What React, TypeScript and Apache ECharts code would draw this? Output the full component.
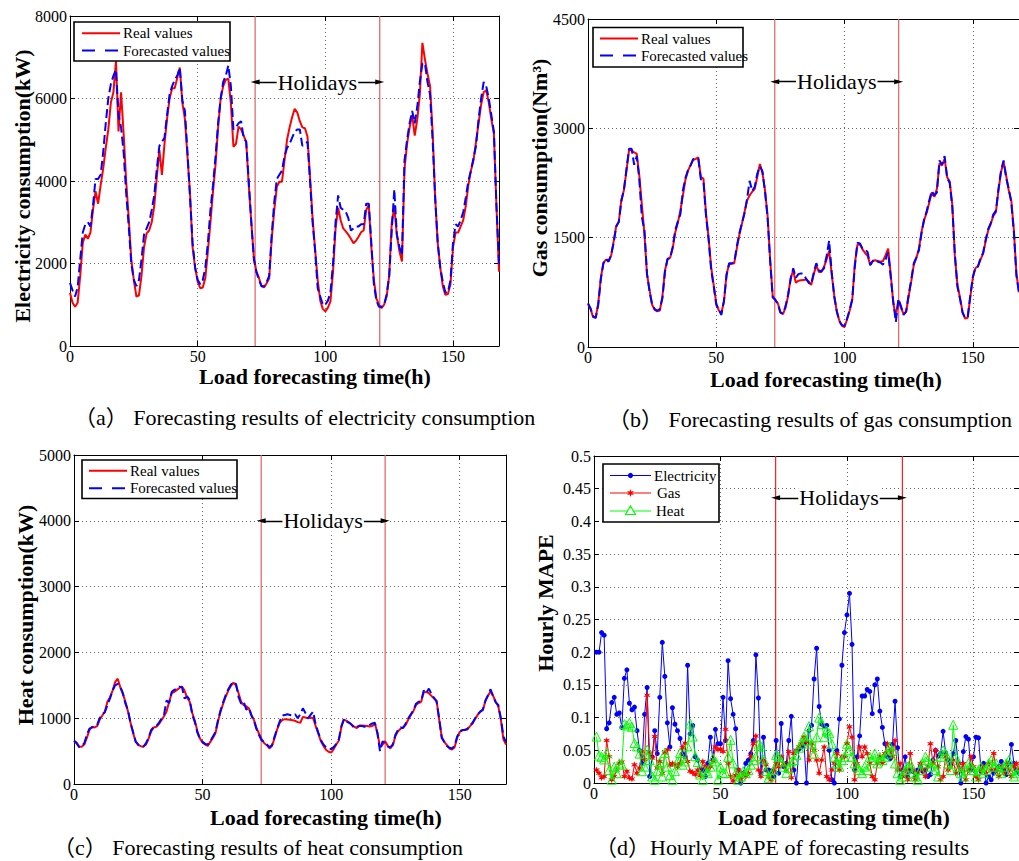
import React, { useEffect, useRef } from "react";
import * as echarts from "echarts";

// ---------------- data (hour 0..168) ----------------
const elecReal = [
  1290, 1050, 950, 1050, 1700, 2500, 2700, 2600, 2750, 3300,
  3750, 3450, 3900, 4300, 4800, 5250, 5900, 6150, 6900, 5200,
  6150, 5150, 4000, 3100, 2100, 1600, 1200, 1230, 1700, 2400,
  2730, 2800, 3000, 3400, 4100, 4750, 4150, 4900, 5500, 6000,
  6250, 6250, 6500, 6750, 5900, 5500, 4600, 3700, 2400, 1900,
  1560, 1400, 1420, 1650, 2300, 3000, 3740, 4400, 5300, 6000,
  6300, 6450, 6480, 5880, 4830, 4900, 5320, 5250, 5100, 4950,
  3900, 3000, 2150, 1800, 1650, 1450, 1420, 1520, 1640, 2600,
  3300, 3860, 3980, 3980, 4500, 5000, 5300, 5550, 5750, 5660,
  5450, 5300, 5280, 5080, 4100, 3100, 2330, 1600, 1100, 900,
  840, 930, 1080, 1800, 2850, 3350, 3050, 2850, 2780, 2700,
  2600, 2490, 2550, 2650, 2760, 2800, 3300, 3420, 2400, 1600,
  1150, 1000, 920, 1000, 1200, 1700, 3000, 3360, 2700, 2300,
  2050, 4300, 4900, 5300, 5600, 5100, 5500, 6100, 7350, 6950,
  6600, 6300, 5200, 3600, 2500, 1900, 1450, 1240, 1260, 1500,
  2400, 2750, 2750, 2900, 3050, 3400, 3900, 4250, 4500, 4950,
  5400, 5850, 6150, 6200, 5900, 5500, 5150, 3400, 1800,
];
const elecForecast = [
  1530, 1350, 1200, 1420, 2100, 2750, 2950, 3000, 2900, 3400,
  4050, 4050, 4150, 4700, 5400, 6000, 6350, 6550, 6700, 5600,
  5300, 4700, 3700, 2900, 2000, 1600, 1450, 1600, 2100, 2700,
  2850, 3000, 3300, 3650, 4300, 4850, 4950, 5050, 5600, 6100,
  6300, 6450, 6550, 6750, 5950, 5700, 4700, 3600, 2500, 1900,
  1600, 1500, 1600, 1900, 2500, 3300, 3900, 4600, 5400, 6000,
  6400, 6550, 6800, 6300, 5250, 5300, 5400, 5450, 5050, 4950,
  4000, 3000, 2100, 1800, 1600, 1450, 1450, 1550, 1700, 2700,
  3500, 4050, 4150, 4250, 4600, 4800, 4900, 5050, 5200, 5250,
  5250, 4850, 4900, 4950, 4000, 3000, 2300, 1400, 1200, 1000,
  1000, 1100, 1300, 2000, 3000, 3650, 3350, 3300, 3250, 3100,
  2800, 2850, 2900, 2900, 2950, 2950, 3450, 3450, 2500, 1500,
  1100, 950, 950, 1000, 1250, 1700, 2800, 3800, 2700, 2400,
  2200, 4500, 5000, 5400, 5700, 5400, 5800, 6400, 6850, 6850,
  6400, 6100, 5000, 3600, 2500, 1900, 1550, 1300, 1300, 1600,
  2500, 2950, 2900, 3050, 3250, 3600, 4000, 4250, 4550, 4850,
  5500, 6000, 6400, 6300, 6000, 5600, 5200, 3400, 2000,
];
const gasReal = [
  590, 520, 410, 400, 600, 950, 1150, 1200, 1180, 1250,
  1450, 1660, 1715, 2020, 2150, 2420, 2700, 2700, 2670, 2650,
  2350, 1950, 1550, 1000, 780, 580, 510, 490, 500, 690,
  1050, 1200, 1225, 1350, 1570, 1700, 1870, 2080, 2300, 2420,
  2500, 2565, 2580, 2600, 2330, 2310, 1830, 1500, 1100, 850,
  600, 500, 470, 620, 1000, 1130, 1140, 1150, 1350, 1540,
  1690, 1850, 2010, 2080, 2130, 2170, 2340, 2510, 2390, 2150,
  1800, 1200, 700, 640, 600, 480, 450, 540, 700, 950,
  1050, 880, 910, 915, 920, 925, 900, 850, 1000, 1120,
  1030, 1030, 1100, 1200, 1320, 1000, 700, 480, 360, 290,
  274, 380, 500, 640, 1140, 1400, 1410, 1340, 1290, 1250,
  1130, 1180, 1190, 1180, 1170, 1180, 1260, 1350, 1000, 600,
  420, 640, 540, 450, 480, 700, 900, 1130, 1220, 1350,
  1580, 1740, 1840, 1980, 2120, 2060, 2170, 2520, 2490, 2580,
  2330, 2270, 1950, 1250, 850, 680, 480, 390, 400, 680,
  950, 1080, 1110, 1200, 1280, 1450, 1600, 1690, 1800, 1850,
  2150, 2400, 2540, 2350, 2150, 2010, 1600, 1000, 750,
];
const gasForecast = [
  600, 530, 420, 400, 580, 930, 1150, 1210, 1170, 1260,
  1430, 1650, 1720, 2000, 2160, 2440, 2720, 2720, 2500, 2620,
  2300, 1780, 1600, 1000, 760, 580, 520, 500, 520, 670,
  1030, 1210, 1220, 1370, 1600, 1720, 1820, 2150, 2320, 2430,
  2490, 2580, 2570, 2580, 2300, 2280, 1800, 1480, 1060, 830,
  580, 510, 440, 640, 980, 1150, 1150, 1160, 1380, 1560,
  1700, 1830, 2030, 2280, 2140, 2200, 2380, 2480, 2410, 2130,
  1780, 1180, 680, 650, 590, 470, 460, 560, 720, 930,
  1080, 950, 1000, 1010, 1000, 940, 880, 860, 1020, 1150,
  1050, 1040, 1080, 1250, 1460, 1020, 690, 490, 350, 300,
  290, 390, 510, 660, 1100, 1430, 1420, 1350, 1340, 1300,
  1120, 1180, 1200, 1170, 1160, 1130, 1200, 1300, 960, 620,
  343, 660, 560, 440, 490, 720, 920, 1150, 1230, 1330,
  1560, 1750, 1860, 2010, 2140, 2080, 2120, 2560, 2500, 2620,
  2320, 2250, 1920, 1270, 830, 660, 470, 400, 410, 700,
  960, 1090, 1100, 1220, 1290, 1470, 1620, 1700, 1820, 1870,
  2170, 2420, 2560, 2320, 2170, 1980, 1580, 980, 740,
];
const heatReal = [
  650, 630, 570, 567, 600, 700, 820, 870, 860, 880,
  980, 1040, 1100, 1250, 1320, 1420, 1550, 1600, 1470, 1370,
  1250, 1100, 930, 770, 650, 590, 575, 567, 600, 690,
  800, 860, 870, 910, 970, 1030, 1100, 1250, 1380, 1400,
  1430, 1460, 1480, 1420, 1310, 1250, 1080, 960, 800, 690,
  630, 600, 580, 640, 700, 770, 950, 1100, 1220, 1330,
  1420, 1490, 1540, 1500, 1380, 1250, 1200, 1180, 1150, 1050,
  970, 850, 760, 680, 620, 590, 540, 580, 700, 830,
  930, 970, 985, 980, 975, 970, 960, 940, 930, 1020,
  1010, 1000, 1010, 1000, 880, 770, 650, 580, 520, 490,
  476, 530, 600, 660, 870, 980, 960, 935, 900, 870,
  850, 890, 890, 885, 880, 875, 880, 920, 780, 560,
  600, 650, 580, 540, 590, 730, 800, 840, 860, 900,
  980, 1050, 1110, 1200, 1230, 1250, 1390, 1400, 1380, 1340,
  1300, 1270, 980, 720, 640, 590, 540, 525, 560, 700,
  790, 815, 825, 830, 880, 920, 990, 1050, 1100, 1125,
  1260, 1340, 1410, 1340, 1250, 1180, 980, 680, 600,
];
const heatForecast = [
  660, 620, 560, 575, 620, 750, 840, 860, 870, 900,
  1000, 1060, 1090, 1200, 1300, 1420, 1500, 1520, 1480, 1380,
  1220, 1120, 920, 790, 640, 600, 580, 570, 620, 700,
  820, 870, 880, 930, 990, 1050, 1270, 1230, 1400, 1430,
  1450, 1480, 1470, 1300, 1330, 1280, 1050, 940, 780, 680,
  640, 610, 600, 650, 720, 790, 970, 1120, 1240, 1350,
  1440, 1510, 1550, 1520, 1320, 1220, 1250, 1130, 1160, 1040,
  960, 830, 740, 660, 640, 600, 560, 590, 720, 840,
  950, 1040, 1050, 1060, 1050, 1040, 1060, 1000, 1060, 1150,
  1080, 1000, 1050, 1100, 900, 780, 670, 600, 560, 540,
  530, 560, 610, 680, 880, 990, 950, 930, 900, 850,
  870, 880, 880, 870, 880, 900, 920, 930, 770, 500,
  650, 620, 570, 560, 600, 750, 820, 860, 850, 920,
  1000, 1060, 1120, 1220, 1250, 1260, 1420, 1380, 1450, 1370,
  1310, 1250, 1000, 700, 640, 580, 550, 540, 580, 720,
  800, 820, 820, 840, 890, 930, 1000, 1060, 1100, 1130,
  1270, 1350, 1440, 1330, 1240, 1200, 1000, 720, 640,
];
// hourly MAPE, hour 1..168
const mapeElectricity = [
  0.2, 0.2, 0.23, 0.226, 0.083, 0.092, 0.123, 0.131, 0.105, 0.107,
  0.085, 0.16, 0.173, 0.122, 0.112, 0.116, 0.08, 0.05, 0.03, 0.105,
  0.146, 0.01, 0.04, 0.08, 0.045, 0.131, 0.215, 0.163, 0.092, 0.055,
  0.115, 0.09, 0.08, 0.068, 0.045, 0.04, 0.18, 0.075, 0.088, 0.04,
  0.035, 0.02, 0.02, 0.01, 0.03, 0.07, 0.035, 0.082, 0.06, 0.06,
  0.131, 0.065, 0.187, 0.129, 0.105, 0.083, 0.02, 0.0, 0.015, 0.03,
  0.035, 0.045, 0.065, 0.196, 0.13, 0.015, 0.07, 0.02, 0.02, 0.018,
  0.01, 0.065, 0.015, 0.091, 0.025, 0.03, 0.065, 0.102, 0.02, 0.0,
  0.052, 0.055, 0.06, 0.0, 0.08, 0.088, 0.159, 0.206, 0.117, 0.09,
  0.087, 0.088, 0.05, 0.005, 0.0, 0.05, 0.098, 0.18, 0.23, 0.257,
  0.29, 0.212, 0.02, 0.04, 0.072, 0.133, 0.133, 0.143, 0.14, 0.106,
  0.15, 0.159, 0.11, 0.085, 0.06, 0.04, 0.037, 0.059, 0.125, 0.054,
  0.01, 0.02, 0.04, 0.01, 0.02, 0.018, 0.01, 0.02, 0.025, 0.018,
  0.02, 0.01, 0.013, 0.035, 0.05, 0.041, 0.045, 0.079, 0.046, 0.035,
  0.028, 0.045, 0.065, 0.03, 0.0, 0.048, 0.071, 0.067, 0.02, 0.04,
  0.07, 0.069, 0.018, 0.03, 0.0, 0.01, 0.005, 0.015, 0.02, 0.025,
  0.033, 0.02, 0.013, 0.03, 0.059, 0.03, 0.02, 0.015,
];
const mapeGas = [
  0.02, 0.015, 0.008, 0.01, 0.065, 0.04, 0.005, 0.01, 0.02, 0.03,
  0.032, 0.01, 0.018, 0.008, 0.006, 0.028, 0.015, 0.023, 0.048, 0.036,
  0.134, 0.046, 0.038, 0.071, 0.023, 0.033, 0.015, 0.046, 0.051, 0.027,
  0.03, 0.028, 0.025, 0.03, 0.054, 0.061, 0.033, 0.018, 0.016, 0.013,
  0.02, 0.011, 0.033, 0.025, 0.02, 0.025, 0.033, 0.055, 0.051, 0.052,
  0.048, 0.082, 0.03, 0.01, 0.003, 0.012, 0.02, 0.005, 0.015, 0.01,
  0.015, 0.04, 0.06, 0.072, 0.02, 0.01, 0.035, 0.028, 0.01, 0.005,
  0.02, 0.03, 0.025, 0.04, 0.03, 0.02, 0.048, 0.008, 0.045, 0.05,
  0.055, 0.06, 0.07, 0.063, 0.035, 0.06, 0.05, 0.035, 0.015, 0.035,
  0.055, 0.01, 0.005, 0.02, 0.03, 0.045, 0.02, 0.04, 0.04, 0.06,
  0.086, 0.07, 0.005, 0.03, 0.055, 0.04, 0.055, 0.045, 0.03, 0.01,
  0.005, 0.03, 0.04, 0.03, 0.045, 0.06, 0.05, 0.04, 0.065, 0.02,
  0.03, 0.01, 0.02, 0.005, 0.045, 0.02, 0.005, 0.015, 0.03, 0.02,
  0.01, 0.025, 0.06, 0.03, 0.05, 0.025, 0.005, 0.01, 0.04, 0.02,
  0.025, 0.035, 0.015, 0.03, 0.02, 0.03, 0.005, 0.02, 0.04, 0.025,
  0.01, 0.005, 0.02, 0.025, 0.015, 0.03, 0.02, 0.045, 0.02, 0.01,
  0.025, 0.015, 0.03, 0.02, 0.01, 0.025, 0.03, 0.02,
];
const mapeHeat = [
  0.071, 0.042, 0.04, 0.036, 0.046, 0.02, 0.005, 0.025, 0.015, 0.03,
  0.028, 0.09, 0.088, 0.092, 0.086, 0.061, 0.056, 0.045, 0.018, 0.025,
  0.051, 0.035, 0.01, 0.005, 0.018, 0.032, 0.01, 0.046, 0.025, 0.012,
  0.005, 0.018, 0.033, 0.046, 0.028, 0.033, 0.056, 0.091, 0.071, 0.041,
  0.032, 0.013, 0.005, 0.018, 0.015, 0.025, 0.038, 0.033, 0.005, 0.025,
  0.015, 0.015, 0.04, 0.066, 0.03, 0.015, 0.005, 0.01, 0.018, 0.015,
  0.02, 0.028, 0.035, 0.041, 0.059, 0.056, 0.036, 0.018, 0.008, 0.013,
  0.02, 0.043, 0.04, 0.033, 0.025, 0.015, 0.023, 0.033, 0.035, 0.043,
  0.054, 0.06, 0.071, 0.065, 0.087, 0.06, 0.045, 0.07, 0.1, 0.09,
  0.07, 0.08, 0.076, 0.06, 0.04, 0.03, 0.025, 0.035, 0.04, 0.06,
  0.05, 0.04, 0.03, 0.025, 0.02, 0.015, 0.025, 0.02, 0.04, 0.035,
  0.045, 0.03, 0.04, 0.035, 0.04, 0.045, 0.056, 0.05, 0.03, 0.015,
  0.005, 0.01, 0.02, 0.025, 0.03, 0.015, 0.01, 0.005, 0.02, 0.03,
  0.04, 0.035, 0.025, 0.03, 0.02, 0.01, 0.04, 0.05, 0.045, 0.03,
  0.02, 0.089, 0.04, 0.025, 0.015, 0.01, 0.02, 0.03, 0.025, 0.02,
  0.01, 0.02, 0.025, 0.015, 0.02, 0.03, 0.035, 0.025, 0.03, 0.02,
  0.015, 0.025, 0.03, 0.035, 0.02, 0.01, 0.015, 0.02,
];

// axis ranges / annotation values (data units)
const xMax = 168;
const xStep = 50;
const yMaxes = [8000, 4500, 5000, 0.5];
const ySteps = [2000, 1500, 1000, 0.05];
const holidayBounds = [
  [72.5, 121.3],
  [72.8, 121.1],
  [72.8, 121.0],
  [71.8, 121.9],
];
const holidayArrowY = [6400, 3640, 4000, 0.436];

// texts
const holidayLabel = "Holidays";
const xTitle = "Load forecasting time(h)";
const yTitles = [
  "Electricity consumption(kW)",
  "Gas consumption(Nm³)",
  "Heat consumption(kW)",
  "Hourly MAPE",
];
const captions = [
  "（a） Forecasting results of electricity consumption",
  "（b） Forecasting results of gas consumption",
  "（c） Forecasting results of heat consumption",
  "（d）Hourly MAPE of forecasting results",
];
const fitNames = ["Real values", "Forecasted values"];
const mapeNames = ["Electricity", "Gas", "Heat"];

// ---------------- layout / style ----------------
const SERIF = "'Liberation Serif', 'Times New Roman', serif";
const SERIF_CJK = "'Liberation Serif', 'Noto Sans CJK SC', serif";
const RED = "#ff0000";
const BLUE = "#0000ff";
const GREEN = "#00ff00";
const DASH = [9, 4];

const GRIDS = [
  { left: 70, top: 16, width: 429, height: 330 },
  { left: 588, top: 19, width: 432, height: 328 },
  { left: 74, top: 455, width: 432, height: 329 },
  { left: 594, top: 456, width: 432, height: 327 },
];
const HOLIDAY_COLORS = ["#e06060", "#e06060", "#e06060", "#ff1a1a"];
const X_TITLE_POS = [
  [315, 376],
  [826, 379],
  [326, 817],
  [834, 817],
];
const Y_TITLE_POS = [
  [22, 186],
  [539, 168],
  [25, 615],
  [545, 603],
];
const CAPTION_POS = [
  [74, 417],
  [608, 419],
  [53, 847],
  [595, 847],
];
const STAR_PATH =
  "path://M0,-10L2,-3.5L8.7,-5L4,0L8.7,5L2,3.5L0,10L-2,3.5L-8.7,5L-4,0L-8.7,-5L-2,-3.5Z";

const pairs = (arr: number[], start: number) => arr.map((v, i) => [i + start, v]);
const fmtTick = (v: number) => String(parseFloat(Number(v).toFixed(6)));

// vertical holiday boundary lines, drawn as tiny two-point line series
function holidaySeries(gi: number) {
  return holidayBounds[gi].map((h) => ({
    type: "line",
    xAxisIndex: gi,
    yAxisIndex: gi,
    data: [
      [h, 0],
      [h, yMaxes[gi]],
    ],
    symbol: "none",
    silent: true,
    z: 2,
    lineStyle: { color: HOLIDAY_COLORS[gi], width: 1.2, type: "solid" },
    itemStyle: { color: HOLIDAY_COLORS[gi] },
    emphasis: { disabled: true },
  }));
}

function holidayArrow(gi: number) {
  const [h0, h1] = holidayBounds[gi];
  const y = holidayArrowY[gi];
  return {
    silent: true,
    symbol: ["triangle", "triangle"],
    symbolSize: [5, 9],
    precision: 4,
    emphasis: { disabled: true },
    lineStyle: { color: "#000", width: 1.3, type: "solid", opacity: 1 },
    label: {
      show: true,
      position: "insideMiddle",
      formatter: holidayLabel,
      fontFamily: SERIF,
      fontSize: 22,
      color: "#000",
      backgroundColor: "#fff",
      padding: [0, 1],
      distance: 0,
    },
    itemStyle: { color: "#000" },
    data: [[{ coord: [h0, y] }, { coord: [h1, y] }]],
  };
}

function fitSeries(gi: number, real: number[], fc: number[]) {
  return [
    {
      name: fitNames[0],
      type: "line",
      xAxisIndex: gi,
      yAxisIndex: gi,
      data: pairs(real, 0),
      symbol: "none",
      silent: true,
      z: 3,
      lineStyle: { color: RED, width: 2 },
      itemStyle: { color: RED },
      emphasis: { disabled: true },
    },
    {
      name: fitNames[1],
      type: "line",
      xAxisIndex: gi,
      yAxisIndex: gi,
      data: pairs(fc, 0),
      symbol: "none",
      silent: true,
      z: 4,
      lineStyle: { color: BLUE, width: 2, type: DASH },
      itemStyle: { color: BLUE },
      emphasis: { disabled: true },
      markLine: holidayArrow(gi),
    },
  ];
}

function mapeSeries() {
  return [
    {
      name: mapeNames[0],
      type: "line",
      xAxisIndex: 3,
      yAxisIndex: 3,
      data: pairs(mapeElectricity, 1),
      symbol: "circle",
      symbolSize: 5,
      silent: true,
      z: 3,
      lineStyle: { color: BLUE, width: 1 },
      itemStyle: { color: BLUE },
      emphasis: { disabled: true },
    },
    {
      name: mapeNames[1],
      type: "line",
      xAxisIndex: 3,
      yAxisIndex: 3,
      data: pairs(mapeGas, 1),
      symbol: STAR_PATH,
      symbolSize: 7,
      silent: true,
      z: 4,
      lineStyle: { color: RED, width: 1 },
      itemStyle: { color: RED },
      emphasis: { disabled: true },
      markLine: holidayArrow(3),
    },
    {
      name: mapeNames[2],
      type: "line",
      xAxisIndex: 3,
      yAxisIndex: 3,
      data: pairs(mapeHeat, 1),
      symbol: "triangle",
      symbolSize: 9,
      silent: true,
      z: 5,
      lineStyle: { color: GREEN, width: 1 },
      itemStyle: { color: "rgba(255,255,255,0)", borderColor: GREEN, borderWidth: 1 },
      emphasis: { disabled: true },
    },
  ];
}

const axisBase = {
  axisLine: { show: true, onZero: false, lineStyle: { color: "#000", width: 1 } },
  axisTick: { show: true, inside: true, length: 5, lineStyle: { color: "#000", width: 1 } },
};
const splitStyle = { show: true, lineStyle: { color: "#666", width: 1, type: [1, 3] } };
const labelStyle = { color: "#000", fontFamily: SERIF, fontSize: 16, formatter: fmtTick };

function buildXAxes() {
  const main = GRIDS.map((_, gi) => ({
    type: "value",
    gridIndex: gi,
    position: "bottom",
    min: 0,
    max: xMax,
    interval: xStep,
    ...axisBase,
    axisLabel: { ...labelStyle, margin: 2, showMaxLabel: false },
    splitLine: splitStyle,
  }));
  const mirror = GRIDS.map((_, gi) => ({
    type: "value",
    gridIndex: gi,
    position: "top",
    min: 0,
    max: xMax,
    interval: xStep,
    ...axisBase,
    axisLabel: { show: false },
    splitLine: { show: false },
  }));
  return [...main, ...mirror];
}

function buildYAxes() {
  const main = GRIDS.map((_, gi) => ({
    type: "value",
    gridIndex: gi,
    position: "left",
    min: 0,
    max: yMaxes[gi],
    interval: ySteps[gi],
    ...axisBase,
    axisLabel: { ...labelStyle, margin: 3 },
    splitLine: splitStyle,
  }));
  const mirror = GRIDS.map((_, gi) => ({
    type: "value",
    gridIndex: gi,
    position: "right",
    min: 0,
    max: yMaxes[gi],
    interval: ySteps[gi],
    ...axisBase,
    axisLabel: { show: false },
    splitLine: { show: false },
  }));
  return [...main, ...mirror];
}

function txt(x: number, y: number, text: string, opts: any = {}) {
  return {
    type: "text",
    x,
    y,
    z: 110,
    rotation: opts.rotation || 0,
    silent: true,
    style: {
      text,
      fill: "#000",
      fontFamily: opts.fontFamily || SERIF,
      fontSize: opts.fontSize || 15,
      fontWeight: opts.fontWeight || "normal",
      align: opts.align || "left",
      textAlign: opts.align || "left",
      verticalAlign: "middle",
      textVerticalAlign: "middle",
    },
  };
}

function hline(x1: number, x2: number, y: number, color: string, width: number, dash?: number[]) {
  return {
    type: "line",
    z: 105,
    silent: true,
    shape: { x1, y1: y, x2, y2: y },
    style: { stroke: color, lineWidth: width, lineDash: dash || null },
  };
}

function box(x: number, y: number, w: number, h: number) {
  return {
    type: "rect",
    z: 100,
    silent: true,
    shape: { x, y, width: w, height: h },
    style: { fill: "#fff", stroke: "#000", lineWidth: 1.6 },
  };
}

function fitLegend(bx: number, by: number, bw: number, bh: number, lx: number, rows: number[]) {
  return [
    box(bx, by, bw, bh),
    hline(lx, lx + 38, rows[0], RED, 2),
    txt(lx + 41, rows[0], fitNames[0]),
    hline(lx, lx + 38, rows[1], BLUE, 2, [13, 10]),
    txt(lx + 41, rows[1], fitNames[1]),
  ];
}

function starPoints(cx: number, cy: number, r: number) {
  const pts: number[][] = [];
  for (let k = 0; k < 12; k++) {
    const a = -Math.PI / 2 + (k * Math.PI) / 6;
    const rr = k % 2 === 0 ? r : r * 0.4;
    pts.push([cx + rr * Math.cos(a), cy + rr * Math.sin(a)]);
  }
  return pts;
}

function mapeLegend() {
  const lx = 610;
  const rows = [475.5, 493, 511];
  const mid = lx + 20.5;
  return [
    box(603, 464, 116, 58),
    hline(lx, lx + 41, rows[0], BLUE, 1),
    { type: "circle", z: 106, silent: true, shape: { cx: mid, cy: rows[0], r: 2.6 }, style: { fill: BLUE } },
    txt(654, rows[0], mapeNames[0]),
    hline(lx, lx + 41, rows[1], RED, 1),
    { type: "polygon", z: 106, silent: true, shape: { points: starPoints(mid, rows[1], 4) }, style: { fill: RED } },
    txt(657, rows[1], mapeNames[1]),
    hline(lx, lx + 41, rows[2], GREEN, 1),
    {
      type: "polygon",
      z: 106,
      silent: true,
      shape: { points: [[mid, rows[2] - 5], [mid + 5, rows[2] + 3.5], [mid - 5, rows[2] + 3.5]] },
      style: { fill: "#fff", stroke: GREEN, lineWidth: 1.2 },
    },
    txt(656, rows[2], mapeNames[2]),
  ];
}

function buildGraphics() {
  const els: any[] = [];
  els.push(...fitLegend(74, 22, 156, 39, 82, [33.3, 50.5]));
  els.push(...fitLegend(593, 27.5, 150, 39.5, 600, [38.5, 55.5]));
  els.push(...fitLegend(82, 460, 155, 38.5, 89, [470.8, 488.3]));
  els.push(...mapeLegend());
  for (let gi = 0; gi < 4; gi++) {
    els.push(
      txt(X_TITLE_POS[gi][0], X_TITLE_POS[gi][1], xTitle, {
        fontSize: 22,
        fontWeight: "bold",
        align: "center",
      })
    );
    els.push(
      txt(Y_TITLE_POS[gi][0], Y_TITLE_POS[gi][1], yTitles[gi], {
        fontSize: 22,
        fontWeight: "bold",
        align: "center",
        rotation: Math.PI / 2,
      })
    );
    els.push(
      txt(CAPTION_POS[gi][0], CAPTION_POS[gi][1], captions[gi], {
        fontSize: 22,
        fontFamily: SERIF_CJK,
      })
    );
  }
  return els;
}

function buildOption() {
  return {
    animation: false,
    backgroundColor: "#fff",
    textStyle: { fontFamily: SERIF },
    grid: GRIDS.map((g) => ({ ...g, containLabel: false, show: false })),
    xAxis: buildXAxes(),
    yAxis: buildYAxes(),
    series: [
      ...holidaySeries(0),
      ...holidaySeries(1),
      ...holidaySeries(2),
      ...holidaySeries(3),
      ...fitSeries(0, elecReal, elecForecast),
      ...fitSeries(1, gasReal, gasForecast),
      ...fitSeries(2, heatReal, heatForecast),
      ...mapeSeries(),
    ],
    graphic: { elements: buildGraphics() },
  };
}

export default function App() {
  const ref = useRef<HTMLDivElement>(null);
  useEffect(() => {
    document.body.style.margin = "0";
    if (!ref.current) return;
    const chart = echarts.init(ref.current, null, { renderer: "svg" });
    chart.setOption(buildOption() as any);
    return () => {
      chart.dispose();
    };
  }, []);
  return <div ref={ref} style={{ width: 1019, height: 861, background: "#fff" }} />;
}
